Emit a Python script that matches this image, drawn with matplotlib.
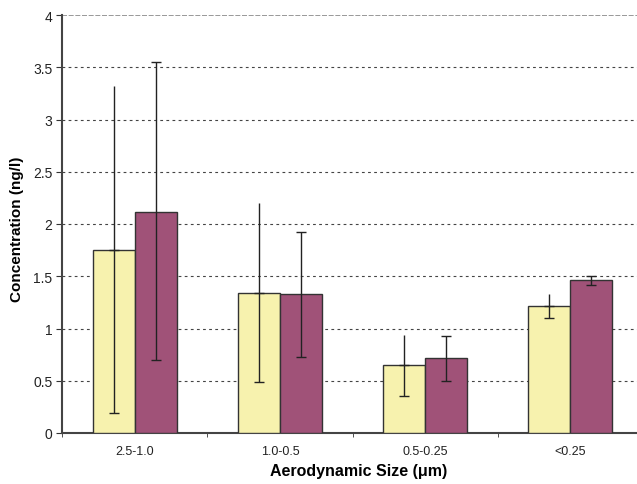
import numpy as np
import matplotlib.pyplot as plt

plt.rcParams['font.family'] = ['Liberation Sans', 'DejaVu Sans']

# size fractions and measured concentrations (ng/l)
sizes = ['2.5-1.0', '1.0-0.5', '0.5-0.25', '<0.25']
yellow_mean = [1.75, 1.34, 0.65, 1.215]
yellow_hi = [3.32, 2.20, 0.94, 1.33]
yellow_lo = [0.19, 0.49, 0.355, 1.10]
purple_mean = [2.115, 1.33, 0.72, 1.465]
purple_hi = [3.55, 1.92, 0.93, 1.50]
purple_lo = [0.70, 0.73, 0.50, 1.42]

yellow_col = '#F7F2AE'
purple_col = '#A05278'

fig = plt.figure(figsize=(6.37, 4.85), dpi=100)
ax = fig.add_axes([62 / 637, 51 / 485, 581 / 637, 418 / 485])

x = np.arange(len(sizes))
w = 0.29

ym = np.array(yellow_mean)
pm = np.array(purple_mean)

ax.bar(x - w / 2, ym, w, color=yellow_col, edgecolor='#333333', linewidth=1, zorder=3)
ax.bar(x + w / 2, pm, w, color=purple_col, edgecolor='#333333', linewidth=1, zorder=3)

# yellow bars: cap only on lower end
ax.errorbar(x - w / 2, ym, yerr=[ym - np.array(yellow_lo), np.zeros(4)],
            fmt='none', ecolor='#222222', elinewidth=1, capsize=3.6, capthick=1, zorder=4)
ax.errorbar(x - w / 2, ym, yerr=[np.zeros(4), np.array(yellow_hi) - ym],
            fmt='none', ecolor='#222222', elinewidth=1, capsize=0, zorder=4)
ax.errorbar(x + w / 2, pm, yerr=[pm - np.array(purple_lo), np.array(purple_hi) - pm],
            fmt='none', ecolor='#222222', elinewidth=1, capsize=3.6, capthick=1, zorder=4)

ax.set_xlim(-0.5, 3.5)
ax.set_ylim(0, 4)
ax.set_yticks(np.arange(0, 4.01, 0.5))
ax.set_yticklabels(['0', '0.5', '1', '1.5', '2', '2.5', '3', '3.5', '4'])
ax.set_xticks(x)
ax.set_xticklabels(sizes)
ax.set_xticks(np.arange(-0.5, 3.6, 1), minor=True)
ax.tick_params(axis='x', which='major', length=0, pad=9, labelsize=9, colors='#222222')
ax.tick_params(axis='x', which='minor', length=3, direction='out', color='#333333')
ax.tick_params(axis='y', length=4, direction='out', pad=3, labelsize=10, color='#333333',
               labelcolor='#222222')

for v in np.arange(0.5, 3.6, 0.5):
    ax.axhline(v, color='#444444', linestyle=(0, (2.5, 3)), linewidth=0.8, zorder=1)
ax.axhline(4, color='#888888', linestyle=(0, (3, 1)), linewidth=1.2, zorder=1)

for s in ['top', 'right']:
    ax.spines[s].set_visible(False)
for s in ['left', 'bottom']:
    ax.spines[s].set_linewidth(1.5)
    ax.spines[s].set_color('#444444')

ax.set_ylabel('Concentration (ng/l)', fontsize=11, fontweight='bold')
ax.set_xlabel('Aerodynamic Size (\u03bcm)', fontsize=11.5, fontweight='bold')
ax.yaxis.set_label_coords(-0.066, 0.49)
ax.xaxis.set_label_coords(0.51, -0.072)

fig.savefig('out.png', dpi=100)
